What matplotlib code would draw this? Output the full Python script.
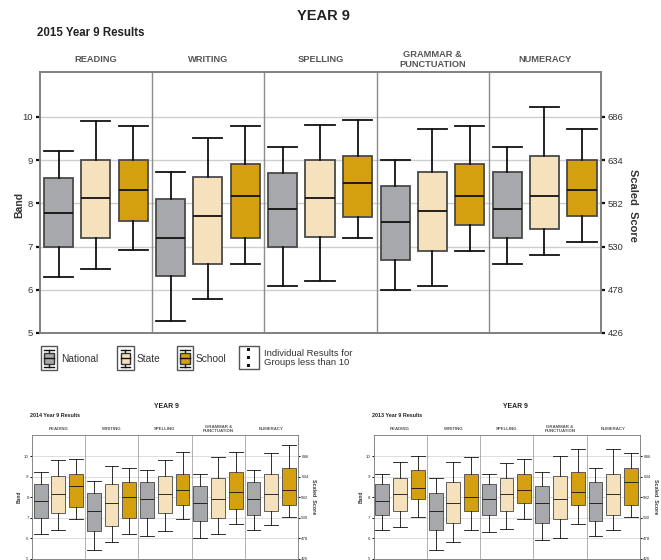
import matplotlib
matplotlib.use("Agg")
import matplotlib.pyplot as plt
from matplotlib.patches import Rectangle

W, H = 661, 560
fig = plt.figure(figsize=(W / 100, H / 100), dpi=100)
plt.rcParams['font.family'] = ['Liberation Sans', 'DejaVu Sans']

# ---------------- data ----------------
domains = ["READING", "WRITING", "SPELLING", "GRAMMAR &\nPUNCTUATION", "NUMERACY"]
groups = ["National", "State", "School"]
band_ticks = [5, 6, 7, 8, 9, 10]
score_ticks = [426, 478, 530, 582, 634, 686]

# each entry: (whisker low, Q1, median, Q3, whisker high) per domain
results_2015 = {
    "National": [(6.29, 7.0, 7.78, 8.59, 9.22), (5.28, 6.31, 7.2, 8.11, 8.72), (6.08, 7.0, 7.88, 8.71, 9.31),
                 (5.99, 6.68, 7.58, 8.4, 9.0), (6.59, 7.21, 7.88, 8.72, 9.31)],
    "State":    [(6.48, 7.21, 8.12, 9.0, 9.91), (5.78, 6.6, 7.7, 8.6, 9.52), (6.2, 7.22, 8.12, 9.0, 9.82),
                 (6.08, 6.9, 7.82, 8.72, 9.71), (6.8, 7.41, 8.18, 9.1, 10.22)],
    "School":   [(6.92, 7.59, 8.3, 9.0, 9.8), (6.59, 7.21, 8.18, 8.91, 9.8), (7.2, 7.69, 8.48, 9.09, 9.92),
                 (6.89, 7.5, 8.18, 8.91, 9.8), (7.1, 7.7, 8.3, 9.0, 9.71)],
}
results_2014 = {
    "National": [(6.18, 7.0, 7.8, 8.63, 9.22), (5.4, 6.33, 7.31, 8.19, 8.81), (6.08, 7.0, 7.9, 8.73, 9.31),
                 (5.99, 6.82, 7.7, 8.53, 9.12), (6.38, 7.11, 7.9, 8.73, 9.31)],
    "State":    [(6.38, 7.21, 8.14, 9.02, 9.8), (5.79, 6.61, 7.7, 8.63, 9.51), (6.33, 7.21, 8.14, 9.02, 9.8),
                 (6.18, 7.0, 7.9, 8.92, 9.95), (6.62, 7.31, 8.14, 9.12, 10.15)],
    "School":   [(6.92, 7.5, 8.55, 9.12, 9.85), (6.18, 7.0, 7.99, 8.73, 9.41), (6.92, 7.6, 8.34, 9.12, 10.23),
                 (6.69, 7.41, 8.24, 9.22, 10.23), (7.01, 7.6, 8.34, 9.41, 10.54)],
}
results_2013 = {
    "National": [(6.38, 7.11, 7.8, 8.63, 9.12), (5.4, 6.38, 7.31, 8.19, 8.92), (6.28, 7.11, 7.9, 8.63, 9.12),
                 (5.89, 6.72, 7.7, 8.53, 9.22), (6.08, 6.82, 7.7, 8.73, 9.41)],
    "State":    [(6.53, 7.31, 8.14, 8.92, 9.71), (5.79, 6.72, 7.7, 8.73, 9.71), (6.43, 7.31, 8.14, 8.92, 9.66),
                 (5.99, 6.92, 7.9, 9.02, 10.03), (6.38, 7.11, 8.14, 9.12, 10.34)],
    "School":   [(7.01, 7.9, 8.43, 9.35, 10.03), (6.38, 7.31, 7.99, 9.12, 9.95), (6.92, 7.7, 8.34, 9.12, 9.85),
                 (6.67, 7.6, 8.24, 9.22, 10.34), (7.01, 7.6, 8.73, 9.41, 10.15)],
}

COLORS = {"National": "#a7a8ac", "State": "#f5e2bd", "School": "#d4a00f"}
OFFSETS = {"National": 0.165, "State": 0.495, "School": 0.83}
YTOP = 11.04


def px_rect(left, top, right, bottom):
    return [left / W, 1 - bottom / H, (right - left) / W, (bottom - top) / H]


def panel(rect, data, title, subtitle, s, title_xy, sub_xy, hdr_y, band_xy, score_xy):
    ax = fig.add_axes(px_rect(*rect))
    lw = 1.3 * s
    for g in groups:
        stats = []
        for (lo, q1, med, q3, hi) in data[g]:
            stats.append(dict(whislo=lo, q1=q1, med=med, q3=q3, whishi=hi, fliers=[]))
        pos = [i + OFFSETS[g] for i in range(len(domains))]
        ax.bxp(stats, positions=pos, widths=0.26, capwidths=0.26, patch_artist=True, showfliers=False,
               boxprops=dict(facecolor=COLORS[g], edgecolor="#4a4a4a", linewidth=lw),
               medianprops=dict(color="#111111", linewidth=lw),
               whiskerprops=dict(color="#111111", linewidth=lw),
               capprops=dict(color="#111111", linewidth=lw), zorder=3)
    ax.set_xlim(0, len(domains))
    ax.set_ylim(5, YTOP)
    for b in band_ticks[1:]:
        ax.axhline(b, color="#cfcfcf", lw=1.0 * s, zorder=1)
    for i in range(1, len(domains)):
        ax.axvline(i, color="#8c8c8c", lw=1.0 * s, zorder=1)
    ax.set_xticks([])
    ax.set_yticks(band_ticks)
    ax.set_yticklabels([str(b) for b in band_ticks], fontsize=6.8 * s, color="#333333")
    ax.tick_params(axis='y', direction='out', length=3 * s, width=1.6 * s, color="#111111", pad=2 * s)
    for k in ["left", "bottom", "top"]:
        ax.spines[k].set_color("#808080")
        ax.spines[k].set_linewidth(1.4 * s)
    ax.spines["right"].set_visible(False)
    # right axis
    ax2 = ax.twinx()
    ax2.set_ylim(426, 426 + (YTOP - 5) * 52)
    ax2.set_yticks(score_ticks)
    ax2.set_yticklabels([str(v) for v in score_ticks], fontsize=6.8 * s, color="#333333")
    ax2.tick_params(axis='y', direction='out', length=3 * s, width=1.6 * s, color="#111111", pad=2 * s)
    for k in ["left", "bottom", "top"]:
        ax2.spines[k].set_visible(False)
    ax2.spines["right"].set_color("#808080")
    ax2.spines["right"].set_linewidth(1.4 * s)
    # axis titles
    fig.text(band_xy[0] / W, 1 - band_xy[1] / H, "Band", rotation=90, ha="center", va="center",
             fontsize=7.5 * s, fontweight="bold", color="#333333")
    fig.text(score_xy[0] / W, 1 - score_xy[1] / H, "Scaled  Score", rotation=-90, ha="center", va="center",
             fontsize=8 * s, fontweight="bold", color="#333333")
    # headers
    for i, d in enumerate(domains):
        ax.text(i + 0.5, hdr_y, d, transform=ax.transData,
                ha="center", va="center", fontsize=6.7 * s, fontweight="bold", color="#555555",
                linespacing=1.05, clip_on=False)
    fig.text(title_xy[0] / W, 1 - title_xy[1] / H, title, ha="center", va="center",
             fontsize=10.5 * s, fontweight="bold", color="#222222")
    fig.text(sub_xy[0] / W, 1 - sub_xy[1] / H, subtitle, ha="left", va="center",
             fontsize=8.3 * s, fontweight="bold", color="#222222")
    return ax


# main 2015 panel
panel((40, 72, 601, 333), results_2015, "YEAR 9", "2015 Year 9 Results", 1.0,
      (323, 16), (37, 33), 11.33, (19, 205), (633, 205))
# 2014 and 2013 panels
panel((32, 435, 298, 558.5), results_2014, "YEAR 9", "2014 Year 9 Results", 0.47,
      (166, 407), (30, 415.5), 11.33, (19.5, 497), (313, 497))
panel((373.5, 435, 640, 558.5), results_2013, "YEAR 9", "2013 Year 9 Results", 0.47,
      (515, 407), (372, 415.5), 11.33, (361, 497), (655, 497))

# ---------------- legend ----------------
lax = fig.add_axes([0, 0, 1, 1])
lax.set_xlim(0, W)
lax.set_ylim(H, 0)
lax.axis("off")


def icon(x0, color):
    lax.add_patch(Rectangle((x0, 346), 16.5, 24, facecolor="white", edgecolor="#555555", lw=1.0))
    cx = x0 + 8.25
    lax.plot([x0 + 3.5, x0 + 13], [349.5, 349.5], color="#111", lw=1.0)
    lax.plot([x0 + 3.5, x0 + 13], [366.5, 366.5], color="#111", lw=1.0)
    lax.plot([cx, cx], [349.5, 366.5], color="#111", lw=1.0)
    lax.add_patch(Rectangle((x0 + 3.5, 352.5), 9.5, 11, facecolor=color, edgecolor="#333333", lw=1.0, zorder=3))
    lax.plot([x0 + 3.5, x0 + 13], [358, 358], color="#111", lw=1.0, zorder=4)


for x0, g, tx in [(40.5, "National", 61), (117, "State", 137), (176.5, "School", 196)]:
    icon(x0, COLORS[g])
    lax.text(tx, 358.5, g, ha="left", va="center", fontsize=7.3, color="#333333")

lax.add_patch(Rectangle((238.5, 346), 20, 23, facecolor="white", edgecolor="#555555", lw=1.0))
for yy in [349.5, 357.5, 365.5]:
    lax.add_patch(Rectangle((247.3, yy - 1.3), 2.6, 2.6, facecolor="#111", edgecolor="none"))
lax.text(264, 358, "Individual Results for\nGroups less than 10", ha="left", va="center",
         fontsize=6.8, color="#333333", linespacing=1.0)

fig.savefig("out.png", dpi=100)
